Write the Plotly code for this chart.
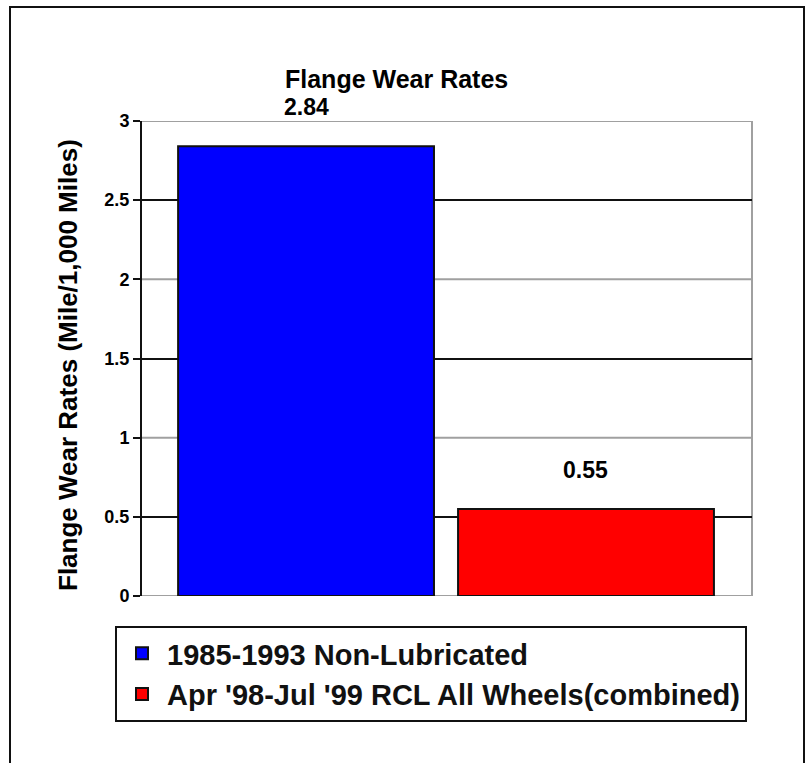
import plotly.graph_objects as go

# Data
series_names = ["1985-1993 Non-Lubricated", "Apr '98-Jul '99 RCL All Wheels(combined)"]
series_values = [2.84, 0.55]
series_positions = [0, 1]
series_colors = ["#0000FF", "#FF0000"]
value_labels = ["2.84", "0.55"]
y_tickvals = [0, 0.5, 1, 1.5, 2, 2.5, 3]
y_ticktext = ["0", "0.5", "1", "1.5", "2", "2.5", "3"]
y_major_grid = [0, 1, 2, 3]
y_half_grid = [0.5, 1.5, 2.5]

FONT = "Liberation Sans, Arial, sans-serif"
W, H = 806, 763
L, R, T, B = 142, 54, 121, 167
PW, PH = W - L - R, H - T - B

def px_x(px):
    return (px - L) / PW

def px_y(py):
    return (H - B - py) / PH

fig = go.Figure()
for name, val, pos, col in zip(series_names, series_values, series_positions, series_colors):
    fig.add_trace(go.Bar(
        x=[pos], y=[val], name=name, width=0.914,
        marker=dict(color=col, line=dict(color="#111111", width=2)),
    ))

for pos, val, lab in zip(series_positions, series_values, value_labels):
    fig.add_annotation(x=pos, y=val, text=lab, showarrow=False, yanchor="bottom",
                       yshift=24, font=dict(family=FONT, size=23, color="#000", weight=700))

# Title
fig.add_annotation(xref="paper", yref="paper", x=px_x(396), y=px_y(79), text="Flange Wear Rates",
                   showarrow=False, xanchor="center", yanchor="middle",
                   font=dict(family=FONT, size=25, color="#000", weight=700))
# Y axis title
fig.add_annotation(xref="paper", yref="paper", x=px_x(68), y=px_y(365),
                   text="Flange Wear Rates (Mile/1,000 Miles)", textangle=-90,
                   showarrow=False, xanchor="center", yanchor="middle",
                   font=dict(family=FONT, size=26, color="#000", weight=700))

# Gray gridlines at whole values
for gv in y_major_grid:
    fig.add_shape(type="line", xref="paper", yref="y", x0=0, x1=1, y0=gv, y1=gv,
                  line=dict(color="#a0a0a0", width=2), layer="below")
# Right border of plot area
fig.add_shape(type="line", xref="paper", yref="paper", x0=1, x1=1, y0=0, y1=1,
              line=dict(color="#a0a0a0", width=2), layer="below")
# Outer frame (three-sided)
fig.add_shape(type="path", xref="paper", yref="paper",
              path=f"M {px_x(10)},{px_y(800)} L {px_x(10)},{px_y(7)} L {px_x(804)},{px_y(7)} L {px_x(804)},{px_y(800)}",
              line=dict(color="#111111", width=2))

fig.update_layout(
    width=W, height=H,
    margin=dict(l=L, r=R, t=T, b=B, pad=0, autoexpand=False),
    paper_bgcolor="white", plot_bgcolor="white",
    barmode="overlay",
    showlegend=True,
    legend=dict(x=px_x(115), y=px_y(626), xanchor="left", yanchor="top",
                bordercolor="#111111", borderwidth=2, bgcolor="white",
                font=dict(family=FONT, size=29, color="#111", weight=700),
                itemwidth=40),
    xaxis=dict(range=[-0.586, 1.593], showticklabels=False, ticks="", showgrid=False,
               zeroline=False, showline=False, fixedrange=True),
    yaxis=dict(range=[0, 3], tickvals=y_tickvals, ticktext=y_ticktext,
               tickfont=dict(family=FONT, size=18, color="#000", weight=700),
               ticks="outside", ticklen=7, tickwidth=2, tickcolor="#111",
               showline=True, linecolor="#111", linewidth=2,
               showgrid=False, zeroline=False,
               minor=dict(tickvals=y_half_grid, showgrid=True, gridcolor="#111111", gridwidth=2, ticks=""),
               fixedrange=True),
)

fig.write_html("out.html", config={"displayModeBar": False},
               post_script="document.body.style.margin='0px';document.body.style.overflow='hidden';")
